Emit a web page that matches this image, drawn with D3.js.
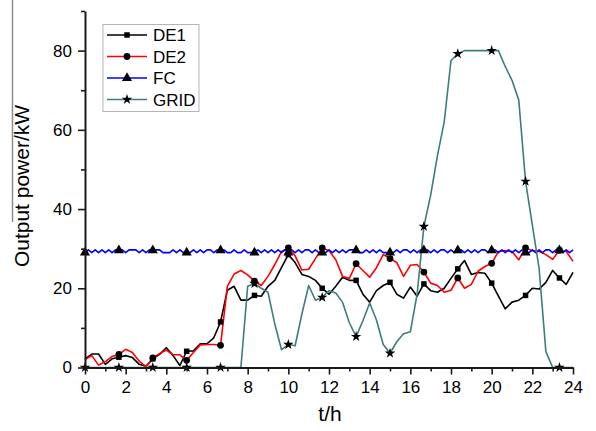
<!DOCTYPE html>
<html>
<head>
<meta charset="utf-8">
<script src="https://cdn.jsdelivr.net/npm/d3@7"></script>
<style>
  html, body { margin: 0; padding: 0; background: #fff; }
  svg { display: block; font-family: "Liberation Sans", Arial, sans-serif; }
</style>
</head>
<body>
<svg id="chart" width="596" height="431"></svg>
<script>
// ---- data (sampled every 1/3 h; FC every 1/6 h) ----
const stepMain = 1 / 3;
const stepFC = 1 / 6;
const seriesNames = ["DE1", "DE2", "FC", "GRID"];
const xTickValues = [0, 2, 4, 6, 8, 10, 12, 14, 16, 18, 20, 22, 24];
const yTickValues = [0, 20, 40, 60, 80];

const DE1 = [
  2.2, 3.4, 3.4, 0.8, 2.2, 2.6, 3.0, 2.5, 0.8, 0.3,
  2.2, 3.3, 5.0, 3.0, 0.5, 4.1, 4.2, 6.0, 6.0, 7.5,
  11.5, 19.5, 20.5, 17, 17, 18.2, 18, 20.5, 22, 25.3,
  28.5, 26.5, 23.5, 23, 22, 20, 18.5, 20.5, 22.8, 22,
  22, 18.5, 16.5, 19.4, 20.7, 21.5, 18.5, 17.5, 20.3, 18,
  21.1, 19.4, 19, 20, 22.5, 24.9, 27, 23.5, 24, 23.8,
  21.3, 18, 14.8, 16.5, 17, 18.2, 20, 19.8, 21.5, 24.5,
  22.6, 21, 24
];
const DE2 = [
  2.0, 3.0, 0.6, 1.5, 2.8, 3.3, 4.6, 3.8, 1.6, 0.2,
  2.4, 3.5, 4.4, 3.2, 3.2, 1.8, 3.8, 5.7, 5.8, 5.8,
  5.6, 20.5, 23.6, 24.5, 23.4, 21.8, 20.7, 23, 26, 29.3,
  30.2, 28.2, 24.6, 24.8, 27.5, 30.2, 29.5, 27.2, 23, 22.5,
  26.2, 24.5, 22.8, 25.2, 28.5, 27.5, 26.5, 23, 25.8, 26,
  24.1, 21.3, 20.7, 19, 19.5, 22.6, 20, 21, 24.3, 25.5,
  26.3, 29.3, 29.5, 29.3, 27.2, 30.2, 29.5, 29.3, 28.5, 27.3,
  29.6, 29.3, 26.8
];
const GRID = [
  0, 0, 0, 0, 0, 0, 0, 0, 0, 0,
  0, 0, 0, 0, 0, 0, 0, 0, 0, 0,
  0, 0, 0, 0, 20.5, 21.2, 20, 19, 11, 4.5,
  5.8, 5.5, 13.5, 20.7, 17, 17.7, 19.4, 18.8, 16.5, 11.3,
  7.8, 11.8, 16.3, 12, 5.8, 3.6, 6.5, 8.5, 9, 18.5,
  35.6, 43.5, 53.5, 62, 77.5, 79.2, 80, 80, 80, 80,
  80, 80, 76, 72.5, 67.5, 47, 36, 25, 4, 0,
  0, 0, 0
];
const FC = [
  29.0, 29.7, 29.0, 29.7, 29.0, 29.7, 29.0, 29.7, 29.0, 29.7,
  29.6, 29.7, 29.0, 29.7, 29.7, 29.7, 29.0, 29.7, 29.0, 29.7,
  29.6, 29.7, 29.7, 29.0, 29.0, 29.0, 29.7, 29.0, 29.7, 29.0,
  29.0, 29.0, 29.7, 29.0, 29.7, 29.0, 29.7, 29.7, 29.0, 29.7,
  29.6, 29.7, 29.0, 29.0, 29.7, 29.0, 29.0, 29.7, 29.0, 29.0,
  29.0, 29.7, 29.0, 29.7, 29.0, 29.7, 29.0, 29.7, 29.0, 29.7,
  29.0, 29.7, 29.0, 29.7, 29.0, 29.7, 29.7, 29.0, 29.7, 29.0,
  29.0, 29.0, 29.7, 29.0, 29.7, 29.0, 29.7, 29.0, 29.7, 29.7,
  29.6, 29.0, 29.0, 29.7, 29.0, 29.7, 29.0, 29.7, 29.0, 29.0,
  29.0, 29.0, 29.7, 29.0, 29.7, 29.7, 29.0, 29.7, 29.0, 29.7,
  29.6, 29.7, 29.0, 29.7, 29.0, 29.7, 29.7, 29.0, 29.7, 29.0,
  29.6, 29.7, 29.0, 29.7, 29.0, 29.7, 29.0, 29.7, 29.7, 29.0,
  29.6, 29.7, 29.0, 29.7, 29.0, 29.7, 29.0, 29.7, 29.0, 29.7,
  29.0, 29.0, 29.7, 29.0, 29.7, 29.0, 29.7, 29.7, 29.0, 29.7,
  29.6, 29.0, 29.7, 29.0, 29.7
];

// ---- setup ----
const svg = d3.select("#chart");
const x = d3.scaleLinear().domain([0, 24]).range([85, 573]);
const y = d3.scaleLinear().domain([0, 90]).range([367.5, 11]);

const series = [
  { name: "DE1", values: DE1, step: stepMain, every: 5, first: 5, color: "#000000", symbol: d3.symbolSquare, size: 30 },
  { name: "DE2", values: DE2, step: stepMain, every: 5, first: 5, color: "#ff0000", symbol: d3.symbolCircle, size: 36 },
  { name: "FC", values: FC, step: stepFC, every: 10, first: 0, color: "#0000ff", symbol: d3.symbolTriangle, size: 44 },
  { name: "GRID", values: GRID, step: stepMain, every: 5, first: 0, color: "#3f7d7d", symbol: d3.symbolStar, size: 34 }
];

// left edge artifact line
svg.append("line").attr("x1", 12.5).attr("x2", 12.5).attr("y1", 0).attr("y2", 222)
  .attr("stroke", "#8c8c8c").attr("stroke-width", 1.5);

// lines
const line = d3.line().x(d => x(d.t)).y(d => y(d.v));
series.forEach(s => {
  s.points = s.values.map((v, i) => ({ t: i * s.step, v, i }));
  svg.append("path").datum(s.points)
    .attr("fill", "none").attr("stroke", s.color).attr("stroke-width", 1.6)
    .attr("stroke-linejoin", "round").attr("d", line);
});
// markers
series.forEach(s => {
  const sym = d3.symbol().type(s.symbol).size(s.size);
  svg.append("g").selectAll("path")
    .data(s.points.filter(d => d.i % s.every === 0 && d.i >= s.first))
    .join("path")
    .attr("transform", d => `translate(${x(d.t)},${y(d.v)})`)
    .attr("d", sym).attr("fill", "#000");
});

// axes
function styleAxis(g) {
  g.select(".domain").attr("stroke", "#1a1a1a").attr("stroke-width", 2);
  g.selectAll(".tick line").attr("stroke", "#1a1a1a").attr("stroke-width", 1.6);
  g.selectAll(".tick text").attr("fill", "#000").attr("font-size", 17)
    .attr("font-family", "Liberation Sans, Arial, sans-serif");
}
const xMinor = d3.range(1, 24, 2);
const gxMinor = svg.append("g").attr("transform", "translate(0,367.5)")
  .call(d3.axisBottom(x).tickValues(xMinor).tickSize(4).tickSizeOuter(0).tickFormat(""));
styleAxis(gxMinor);
gxMinor.select(".domain").remove();
const gx = svg.append("g").attr("transform", "translate(0,367.5)")
  .call(d3.axisBottom(x).tickValues(xTickValues).tickSize(7).tickSizeOuter(0).tickPadding(6).tickFormat(d3.format("d")));
styleAxis(gx);

const yMinor = [10, 30, 50, 70, 90];
const gyMinor = svg.append("g").attr("transform", "translate(85,0)")
  .call(d3.axisLeft(y).tickValues(yMinor).tickSize(4).tickSizeOuter(0).tickFormat(""));
styleAxis(gyMinor);
gyMinor.select(".domain").remove();
const gy = svg.append("g").attr("transform", "translate(85,0)")
  .call(d3.axisLeft(y).tickValues(yTickValues).tickSize(7).tickSizeOuter(0).tickPadding(6).tickFormat(d3.format("d")));
styleAxis(gy);

// axis titles
svg.append("text").attr("x", 330).attr("y", 421).attr("text-anchor", "middle")
  .attr("font-size", 21).attr("fill", "#000").text("t/h");
svg.append("text").attr("transform", "translate(28.5,186) rotate(-90)")
  .attr("text-anchor", "middle").attr("font-size", 21).attr("fill", "#000").text("Output power/kW");

// legend
const lg = svg.append("g");
lg.append("rect").attr("x", 103).attr("y", 24.5).attr("width", 96).attr("height", 87)
  .attr("fill", "#fff").attr("stroke", "#b5b5b5").attr("stroke-width", 1);
series.forEach((s, i) => {
  const yy = 35 + i * 21.5;
  lg.append("line").attr("x1", 107).attr("x2", 147).attr("y1", yy).attr("y2", yy)
    .attr("stroke", s.color).attr("stroke-width", 1.6);
  lg.append("path").attr("transform", `translate(127,${yy})`)
    .attr("d", d3.symbol().type(s.symbol).size(s.size)()).attr("fill", "#000");
  lg.append("text").attr("x", 153).attr("y", yy).attr("dy", "0.36em")
    .attr("font-size", 17).attr("fill", "#000").text(s.name);
});
</script>
</body>
</html>
